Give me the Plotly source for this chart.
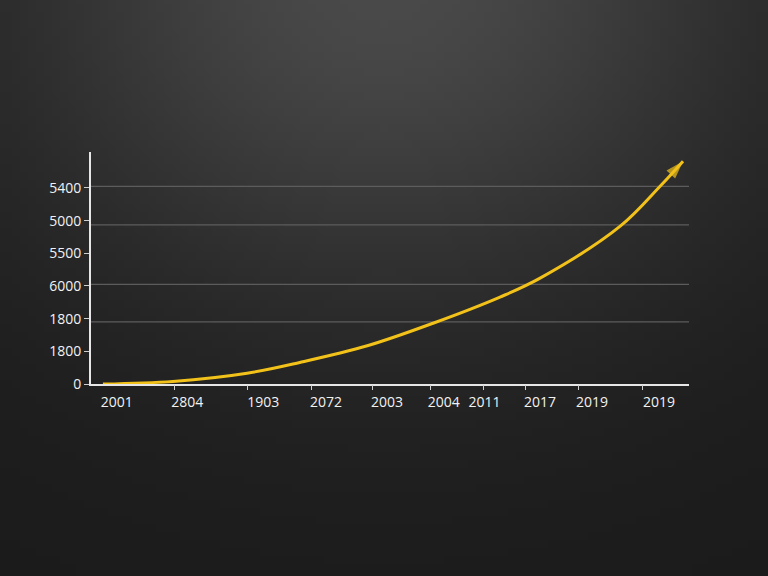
import base64, struct, zlib, math
import plotly.graph_objects as go

# ---- data ----
x_tick_labels = ["2001", "2804", "1903", "2072", "2003", "2004", "2011", "2017", "2019", "2019"]
x_label_pos = [4.3, 16.1, 28.8, 39.3, 49.5, 59.0, 65.8, 75.1, 83.8, 95.0]
x_tick_marks = [13.9, 26.1, 36.8, 47.0, 56.7, 65.6, 72.7, 81.6, 92.3]
y_tick_labels = ["0", "1800", "1800", "6000", "5500", "5000", "5400"]
y_tick_vals = [0, 1, 2, 3, 4, 5, 6]
grid_vals = [1.9, 3.05, 4.87, 6.05]

curve_x = [2.0, 13.7, 26.1, 34.9, 46.2, 57.2, 68.4, 75.1, 88.5, 95.2, 99.0]
curve_y = [0.0, 0.08, 0.33, 0.66, 1.17, 1.86, 2.66, 3.24, 4.83, 6.06, 6.82]

# ---- background gradient image ----
W, H = 96, 72
rows = []
for j in range(H):
    row = bytearray([0])
    py = (j + 0.5) * 576 / H
    for i in range(W):
        px = (i + 0.5) * 768 / W
        dx = (px - 384) / 390
        dy = (py + 20) / 330
        v = int(27 + 47 * math.exp(-(dx * dx + dy * dy)))
        row += bytes([v, v, v])
    rows.append(bytes(row))
raw = b"".join(rows)

def chunk(t, d):
    c = struct.pack(">I", len(d)) + t + d
    return c + struct.pack(">I", zlib.crc32(t + d) & 0xffffffff)

png = b"\x89PNG\r\n\x1a\n" + chunk(b"IHDR", struct.pack(">IIBBBBB", W, H, 8, 2, 0, 0, 0)) \
      + chunk(b"IDAT", zlib.compress(raw, 9)) + chunk(b"IEND", b"")
bg_uri = "data:image/png;base64," + base64.b64encode(png).decode()

YELLOW = "#f2c21a"
n = len(curve_x)
sizes = [7] + [0] * (n - 2) + [19]
symbols = ["circle"] + ["circle"] * (n - 2) + ["arrow"]

fig = go.Figure()
fig.add_trace(go.Scatter(
    x=curve_x, y=curve_y, mode="lines+markers",
    line=dict(color=YELLOW, width=3, shape="spline", smoothing=1.0),
    marker=dict(size=sizes, symbol=symbols, color=YELLOW, angleref="previous", line=dict(width=0)),
    hoverinfo="skip", showlegend=False, cliponaxis=False,
))
fig.add_trace(go.Scatter(x=[0], y=[0], xaxis="x2", mode="markers",
                         marker=dict(size=0, opacity=0), showlegend=False, hoverinfo="skip"))

shapes = []
for g in grid_vals:
    shapes.append(dict(type="line", xref="paper", x0=0, x1=1, yref="y", y0=g, y1=g,
                       line=dict(color="#5c5c5c", width=1.2), layer="below"))

fig.update_layout(
    width=768, height=576,
    margin=dict(l=91, r=79, t=152, b=192),
    paper_bgcolor="#262626", plot_bgcolor="rgba(0,0,0,0)",
    font=dict(family="Open Sans, DejaVu Sans, sans-serif", color="#f2f2f2", size=14),
    images=[dict(source=bg_uri, xref="paper", yref="paper", x=-91/598, y=1 + 152/232,
                 sizex=768/598, sizey=576/232, sizing="stretch", layer="below",
                 xanchor="left", yanchor="top")],
    shapes=shapes,
    xaxis=dict(range=[0, 100], tickvals=x_label_pos, ticktext=x_tick_labels,
               showgrid=False, zeroline=False, showline=True, linecolor="#e6e6e6", linewidth=2,
               ticks="", ticklabelstandoff=4, tickfont=dict(size=14, color="#f2f2f2"), fixedrange=True),
    xaxis2=dict(range=[0, 100], overlaying="x", anchor="y", side="bottom", tickvals=x_tick_marks,
                showticklabels=False, ticks="outside", ticklen=5, tickcolor="#cfcfcf", tickwidth=1,
                showgrid=False, zeroline=False, showline=False),
    yaxis=dict(range=[0, 7.1], tickvals=y_tick_vals, ticktext=y_tick_labels,
               showgrid=False, zeroline=False, showline=True, linecolor="#e6e6e6", linewidth=2,
               ticks="outside", ticklen=5, tickcolor="#cfcfcf", tickwidth=1,
               tickfont=dict(size=14, color="#f2f2f2"), fixedrange=True),
)

fig.write_html("out.html")
